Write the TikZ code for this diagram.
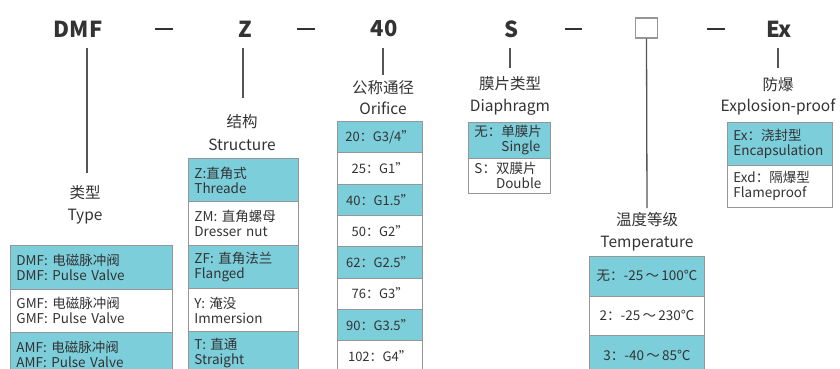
\documentclass[tikz,border=0pt]{standalone}
\usepackage{fontspec}
\setmainfont{Noto Sans CJK SC}
\definecolor{rowblue}{RGB}{124,206,219}
\definecolor{edge}{RGB}{150,150,150}
\definecolor{ink}{RGB}{51,51,51}
\definecolor{wire}{RGB}{85,85,85}
\begin{document}
\begin{tikzpicture}[x=1pt,y=-1pt,
  every node/.style={text=ink},
  head/.style={font=\fontsize{22}{24}\selectfont\bfseries, inner sep=0pt},
  dashline/.style={draw=ink, line width=1.6pt},
  conn/.style={draw=wire, line width=1.3pt},
  lab/.style={font=\fontsize{15.5}{17}\selectfont, inner sep=0pt},
  rowbox/.style={draw=edge, line width=0.9pt, anchor=north west, inner xsep=6pt, inner ysep=1pt,
                 align=left, font=\fontsize{13.5}{15}\selectfont},
  typerow/.style={rowbox, minimum width=162pt, text width=150pt, minimum height=43.5pt},
  strrow/.style={rowbox, minimum width=110pt, text width=98pt, minimum height=43.3pt},
  orirow/.style={rowbox, minimum width=85pt, text width=73pt, minimum height=31.3pt, align=center,
                 font=\fontsize{13}{15}\selectfont},
  diarow/.style={rowbox, minimum width=82pt, text width=70pt, minimum height=35.5pt, inner xsep=6pt},
  temrow/.style={rowbox, minimum width=115pt, text width=113pt, inner xsep=1pt, minimum height=39.5pt, align=center,
                 font=\fontsize{13.5}{15}\selectfont},
  exrow/.style={rowbox, minimum width=105pt, text width=93pt, minimum height=42.5pt},
  blue/.style={fill=rowblue},
  white/.style={fill=white}]
\useasboundingbox (0,0) rectangle (840,369);
\fill[white] (0,0) rectangle (840,369);

% header
\node[head] (hDMF) at (78,29) {DMF};
\node[head] (hZ) at (245,29) {Z};
\node[head] (h40) at (384,29) {40};
\node[head] (hS) at (512,29) {S};
\node[draw=edge, line width=1.2pt, minimum width=22pt, minimum height=20pt, inner sep=0pt] (hBox) at (646.5,28) {};
\node[head] (hEx) at (779,29) {Ex};

\coordinate (d1a) at (155,29); \coordinate (d1b) at (173,29);
\coordinate (d2a) at (297,29); \coordinate (d2b) at (315,29);
\coordinate (d3a) at (565,29); \coordinate (d3b) at (582,29);
\coordinate (d4a) at (707,29); \coordinate (d4b) at (725,29);
\draw[dashline] (d1a) -- (d1b);
\draw[dashline] (d2a) -- (d2b);
\draw[dashline] (d3a) -- (d3b);
\draw[dashline] (d4a) -- (d4b);

% labels
\node[lab] (lType1) at (85,193) {类型};
\node[lab] (lType2) at (85,217) {Type};
\node[lab] (lStr1) at (242,122) {结构};
\node[lab] (lStr2) at (242,145) {Structure};
\node[lab] (lOri1) at (383,88) {公称通径};
\node[lab] (lOri2) at (383,108) {Orifice};
\node[lab] (lDia1) at (510,84) {膜片类型};
\node[lab] (lDia2) at (510,107) {Diaphragm};
\node[lab] (lTem1) at (647,220) {温度等级};
\node[lab] (lTem2) at (647,244) {Temperature};
\node[lab] (lEx1) at (778,85) {防爆};
\node[lab] (lEx2) at (778,107) {Explosion-proof};

% connectors
\coordinate (c1a) at (87,48);  \coordinate (c1b) at (87,173);
\coordinate (c2a) at (243,48); \coordinate (c2b) at (243,98);
\coordinate (c3a) at (383,48); \coordinate (c3b) at (383,75);
\coordinate (c4a) at (510,48); \coordinate (c4b) at (510,68);
\coordinate (c5b) at (647,208);
\coordinate (c6a) at (778,48); \coordinate (c6b) at (778,68);
\draw[conn] (c1a) -- (c1b);
\draw[conn] (c2a) -- (c2b);
\draw[conn] (c3a) -- (c3b);
\draw[conn] (c4a) -- (c4b);
\draw[conn] (hBox.south) -- (c5b);
\draw[conn] (c6a) -- (c6b);

% Type
\node[typerow, blue]  (t1) at (10,245)   {DMF: 电磁脉冲阀\\DMF: Pulse Valve};
\node[typerow, white] (t2) at (10,288.5) {GMF: 电磁脉冲阀\\GMF: Pulse Valve};
\node[typerow, blue]  (t3) at (10,332)   {AMF: 电磁脉冲阀\\AMF: Pulse Valve};

% Structure
\node[strrow, blue]  (s1) at (188,158)   {Z:直角式\\Threade};
\node[strrow, white] (s2) at (188,201.3) {ZM: 直角螺母\\Dresser nut};
\node[strrow, blue]  (s3) at (188,244.6) {ZF: 直角法兰\\Flanged};
\node[strrow, white] (s4) at (188,287.9) {Y: 淹没\\Immersion};
\node[strrow, blue]  (s5) at (188,331.2) {T: 直通\\Straight};

% Orifice
\node[orirow, blue]  (o1) at (337,121)   {20：G3/4"};
\node[orirow, white] (o2) at (337,152.3) {25：G1"};
\node[orirow, blue]  (o3) at (337,183.6) {40：G1.5"};
\node[orirow, white] (o4) at (337,214.9) {50：G2"};
\node[orirow, blue]  (o5) at (337,246.2) {62：G2.5"};
\node[orirow, white] (o6) at (337,277.5) {76：G3"};
\node[orirow, blue]  (o7) at (337,308.8) {90：G3.5"};
\node[orirow, white] (o8) at (337,340.1) {102：G4"};

% Diaphragm
\node[diarow, blue]  (p1) at (468,122)   {无：单膜片\\\hphantom{无：}Single};
\node[diarow, white] (p2) at (468,157.5) {S：双膜片\\\hphantom{S：}Double};

% Temperature
\node[temrow, blue]  (m1) at (589,256)   {\mbox{无：-25\,～\,100℃}};
\node[temrow, white] (m2) at (589,295.5) {\mbox{2：-25\,～\,230℃}};
\node[temrow, blue]  (m3) at (589,335)   {\mbox{3：-40\,～\,85℃}};

% Explosion-proof
\node[exrow, blue]  (e1) at (727,122)   {Ex：浇封型\\Encapsulation};
\node[exrow, white] (e2) at (727,164.5) {Exd：隔爆型\\Flameproof};
\end{tikzpicture}
\end{document}
